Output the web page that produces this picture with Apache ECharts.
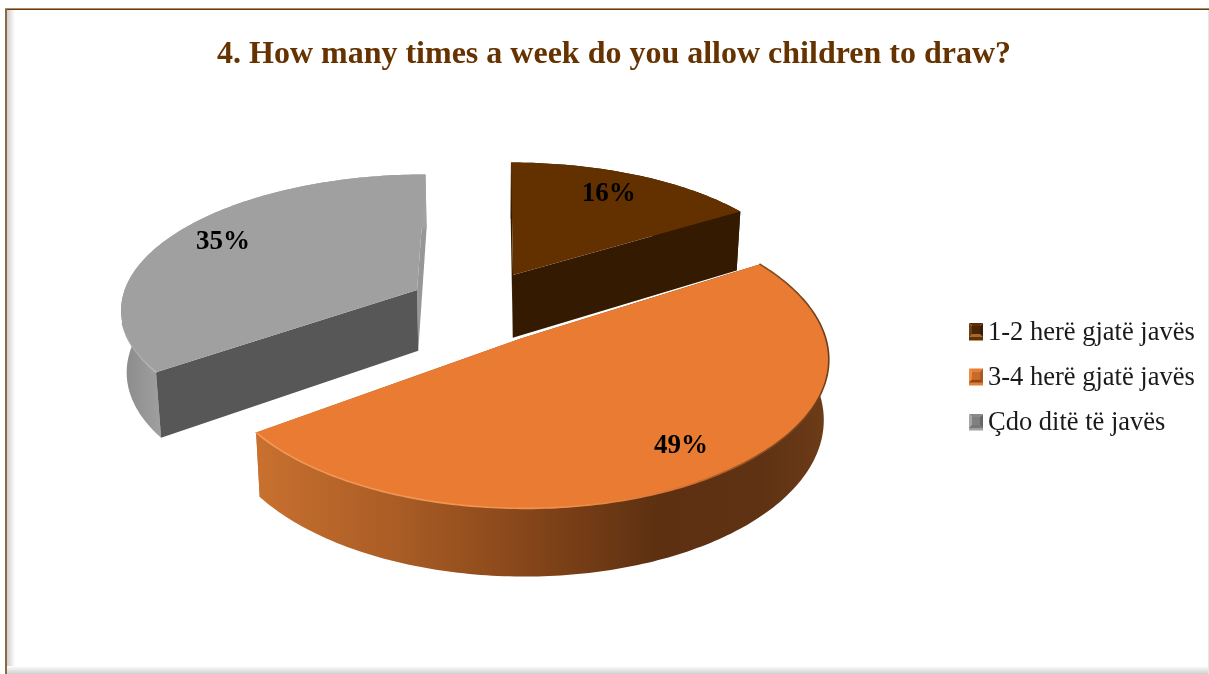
<!DOCTYPE html>
<html>
<head>
<meta charset="utf-8">
<style>html,body{margin:0;padding:0;background:#fff}#chart{width:1209px;height:674px}</style>
<script src="https://cdn.jsdelivr.net/npm/echarts@6/dist/echarts.min.js"></script>
</head>
<body>
<div id="chart"></div>
<script>
// Survey results for question 4
const chartTitle = '4. How many times a week do you allow children to draw?';
const categories = ['1-2 herë gjatë javës', '3-4 herë gjatë javës', 'Çdo ditë të javës'];
const shares = [16, 49, 35];

// Colours of each wedge
const topColors = ['#633100', '#e97b32', '#a0a0a0'];

// Perspective model of the tilted disc. A wedge point at polar angle theta and
// radius r is moved by the wedge's explosion offset, then projected. The lower
// face sits further from the camera, so it is drawn slightly narrower.
const view = { cx: 494, radius: 308, k: 0.13, lowerFaceScale: 0.985 };
const placement = [
  { x0: 0.066, y0: 0.527, cy: 346, ty: 144, height: 67, labelBias: -1.5, labelDy: 2 },
  { x0: 0.088, y0: 0.077, cy: 350, ty: 151, height: 60, labelBias: -2.2, labelDy: 4 },
  { x0: -0.263, y0: 0.41, cy: 346, ty: 144, height: 64, labelBias: 1, labelDy: -1 }
];

const total = shares.reduce((a, b) => a + b, 0);
const startShare = shares.map((_, i) => shares.slice(0, i).reduce((a, b) => a + b, 0));

function project(i, theta, r, drop) {
  const p = placement[i];
  const X = p.x0 + r * Math.sin(theta);
  const Y = p.y0 + r * Math.cos(theta);
  const w = 1 + view.k * Y;
  const spread = view.radius * X / w * (drop ? view.lowerFaceScale : 1);
  return [view.cx + spread, p.cy - p.ty * Y / w + (drop ? p.height / w : 0)];
}

function arc(i, a0, a1, drop) {
  const pts = [];
  const n = Math.max(8, Math.ceil((a1 - a0) * 60));
  for (let s = 0; s <= n; s++) pts.push(project(i, a0 + (a1 - a0) * s / n, 1, drop));
  return pts;
}

function hGradient(x0, x1, stops) {
  return {
    type: 'linear', x: x0, y: 0, x2: x1, y2: 0, global: true,
    colorStops: stops.map(s => ({ offset: (s[0] - x0) / (x1 - x0), color: s[1] }))
  };
}

const arcWallFill = [
  '#341a00',
  hGradient(258, 830, [[258, '#c8702f'], [400, '#a95c25'], [530, '#854519'], [660, '#5c3011'], [760, '#5e3213'], [830, '#6e3c18']]),
  hGradient(122, 165, [[122, '#8a8a8a'], [165, '#a2a2a2']])
];
// Walls along the two cut edges of each wedge: one turned away from the viewer
// (painted before the rim wall), one facing the viewer (painted after it)
const hiddenEdgeFill = ['#341a00', arcWallFill[1], '#979797'];
const facingEdgeFill = ['#341a00', null, '#575757'];
const facingEdge = ['end', null, 'start'];

const rimStroke = [
  null,
  hGradient(258, 830, [[258, '#f09a58'], [560, '#f0924f'], [680, '#d97430'], [760, '#8a4d1f'], [830, '#6e3c18']]),
  hGradient(122, 165, [[122, '#a0a0a0'], [165, '#bcbcbc']])
];

function drawWedge(i) {
  return function (params, api) {
    const a0 = api.value(1) / total * 2 * Math.PI;
    const a1 = a0 + api.value(0) / total * 2 * Math.PI;
    const mid = (a0 + a1) / 2 + placement[i].labelBias * Math.PI / 180;
    const apexTop = project(i, 0, 0, false);
    const apexLow = project(i, 0, 0, true);
    const topArc = arc(i, a0, a1, false);
    const lowArc = arc(i, a0, a1, true);
    const last = topArc.length - 1;
    const edgeWall = (k, fill) => ({
      type: 'polygon',
      shape: { points: [apexTop, topArc[k], lowArc[k], apexLow] },
      style: { fill: fill }
    });
    const children = [];
    if (facingEdge[i] !== 'start') children.push(edgeWall(0, hiddenEdgeFill[i]));
    if (facingEdge[i] !== 'end') children.push(edgeWall(last, hiddenEdgeFill[i]));
    children.push({
      type: 'polygon',
      shape: { points: topArc.concat(lowArc.slice().reverse()) },
      style: { fill: arcWallFill[i] }
    });
    if (facingEdge[i] === 'start') children.push(edgeWall(0, facingEdgeFill[i]));
    if (facingEdge[i] === 'end') children.push(edgeWall(last, facingEdgeFill[i]));
    children.push({
      type: 'polygon',
      shape: { points: [apexTop].concat(topArc) },
      style: { fill: topColors[i] }
    });
    if (rimStroke[i]) {
      const from = i === 2 ? a0 : Math.PI * 0.32;
      const to = i === 2 ? Math.PI * 1.42 : a1;
      children.push({
        type: 'polyline',
        shape: { points: arc(i, from, to, false) },
        style: { fill: null, stroke: rimStroke[i], lineWidth: 1.6, lineCap: 'round' }
      });
    }
    const at = project(i, mid, 0.8, false);
    children.push({
      type: 'text',
      style: {
        text: api.value(0) + '%', x: at[0], y: at[1] + placement[i].labelDy,
        align: 'center', verticalAlign: 'middle',
        font: 'bold 27px "Liberation Serif"', fill: '#000'
      }
    });
    return { type: 'group', children: children };
  };
}

// Bevel of the legend keys: top, left, right and bottom rims, then the centre
const keyFaces = [
  ['#5a3008', '#6d4012', '#3a1c04', '#a06a30', '#4a2404'],
  ['#ea7c30', '#f08a3c', '#a85a24', '#8a4a1c', '#c96a28'],
  ['#8a8a8a', '#a8a8a8', '#666666', '#777777', '#808080']
];
const keyBox = { x: 969, y: 323, size: 14, rim: 3, step: 45.5 };

function keyShading() {
  const out = [];
  keyFaces.forEach((faces, row) => {
    const x = keyBox.x, y = keyBox.y + row * keyBox.step, s = keyBox.size, m = keyBox.rim;
    const outer = [[x, y], [x + s, y], [x + s, y + s], [x, y + s]];
    const inner = [[x + m, y + m], [x + s - m, y + m], [x + s - m, y + s - m], [x + m, y + s - m]];
    const rims = [[0, 1], [3, 0], [1, 2], [2, 3]];
    rims.forEach((pair, f) => out.push({
      type: 'polygon', z: 10,
      shape: { points: [outer[pair[0]], outer[pair[1]], inner[pair[1]], inner[pair[0]]] },
      style: { fill: faces[f] }
    }));
    out.push({ type: 'polygon', z: 10, shape: { points: inner }, style: { fill: faces[4] } });
  });
  return out;
}

// Brown wedge first so the orange one overlaps its wall
const drawOrder = [0, 2, 1];

const option = {
  animation: false,
  backgroundColor: '#fff',
  title: {
    text: chartTitle, left: 212, top: 34,
    textStyle: { fontFamily: 'Liberation Serif', fontWeight: 'bold', fontSize: 32, color: '#663300' }
  },
  legend: {
    orient: 'vertical', left: 964, top: 315, itemWidth: 14, itemHeight: 14, itemGap: 18,
    selectedMode: false,
    textStyle: { fontFamily: 'Liberation Serif', fontSize: 26.5, color: '#1a1a1a', lineHeight: 27 },
    data: categories.map((name, i) => ({
      name: name, icon: 'rect', itemStyle: { color: topColors[i] }
    }))
  },
  graphic: [
    // Page frame with its soft inner shadow
    { type: 'rect', shape: { x: 7, y: 10, width: 8, height: 664 }, style: { fill: { type: 'linear', x: 0, y: 0, x2: 1, y2: 0, colorStops: [{ offset: 0, color: '#cfcfcf' }, { offset: 1, color: '#ffffff' }] } } },
    { type: 'rect', shape: { x: 7, y: 666, width: 1202, height: 8 }, style: { fill: { type: 'linear', x: 0, y: 0, x2: 0, y2: 1, colorStops: [{ offset: 0, color: '#ffffff' }, { offset: 1, color: '#cfcfcf' }] } } },
    { type: 'rect', shape: { x: 5, y: 8, width: 1204, height: 1 }, style: { fill: '#a98d6c' } },
    { type: 'rect', shape: { x: 5, y: 9, width: 1204, height: 1 }, style: { fill: '#6b3c10' } },
    { type: 'rect', shape: { x: 5, y: 9, width: 2, height: 665 }, style: { fill: '#8b6a42' } },
    { type: 'rect', shape: { x: 1208, y: 10, width: 1, height: 664 }, style: { fill: '#e6e6e6' } }
  ].concat(keyShading()),
  series: drawOrder.map(i => ({
    type: 'custom',
    name: categories[i],
    coordinateSystem: 'none',
    itemStyle: { color: topColors[i] },
    renderItem: drawWedge(i),
    data: [[shares[i], startShare[i]]],
    silent: true
  }))
};

echarts.init(document.getElementById('chart')).setOption(option);
</script>
</body>
</html>
